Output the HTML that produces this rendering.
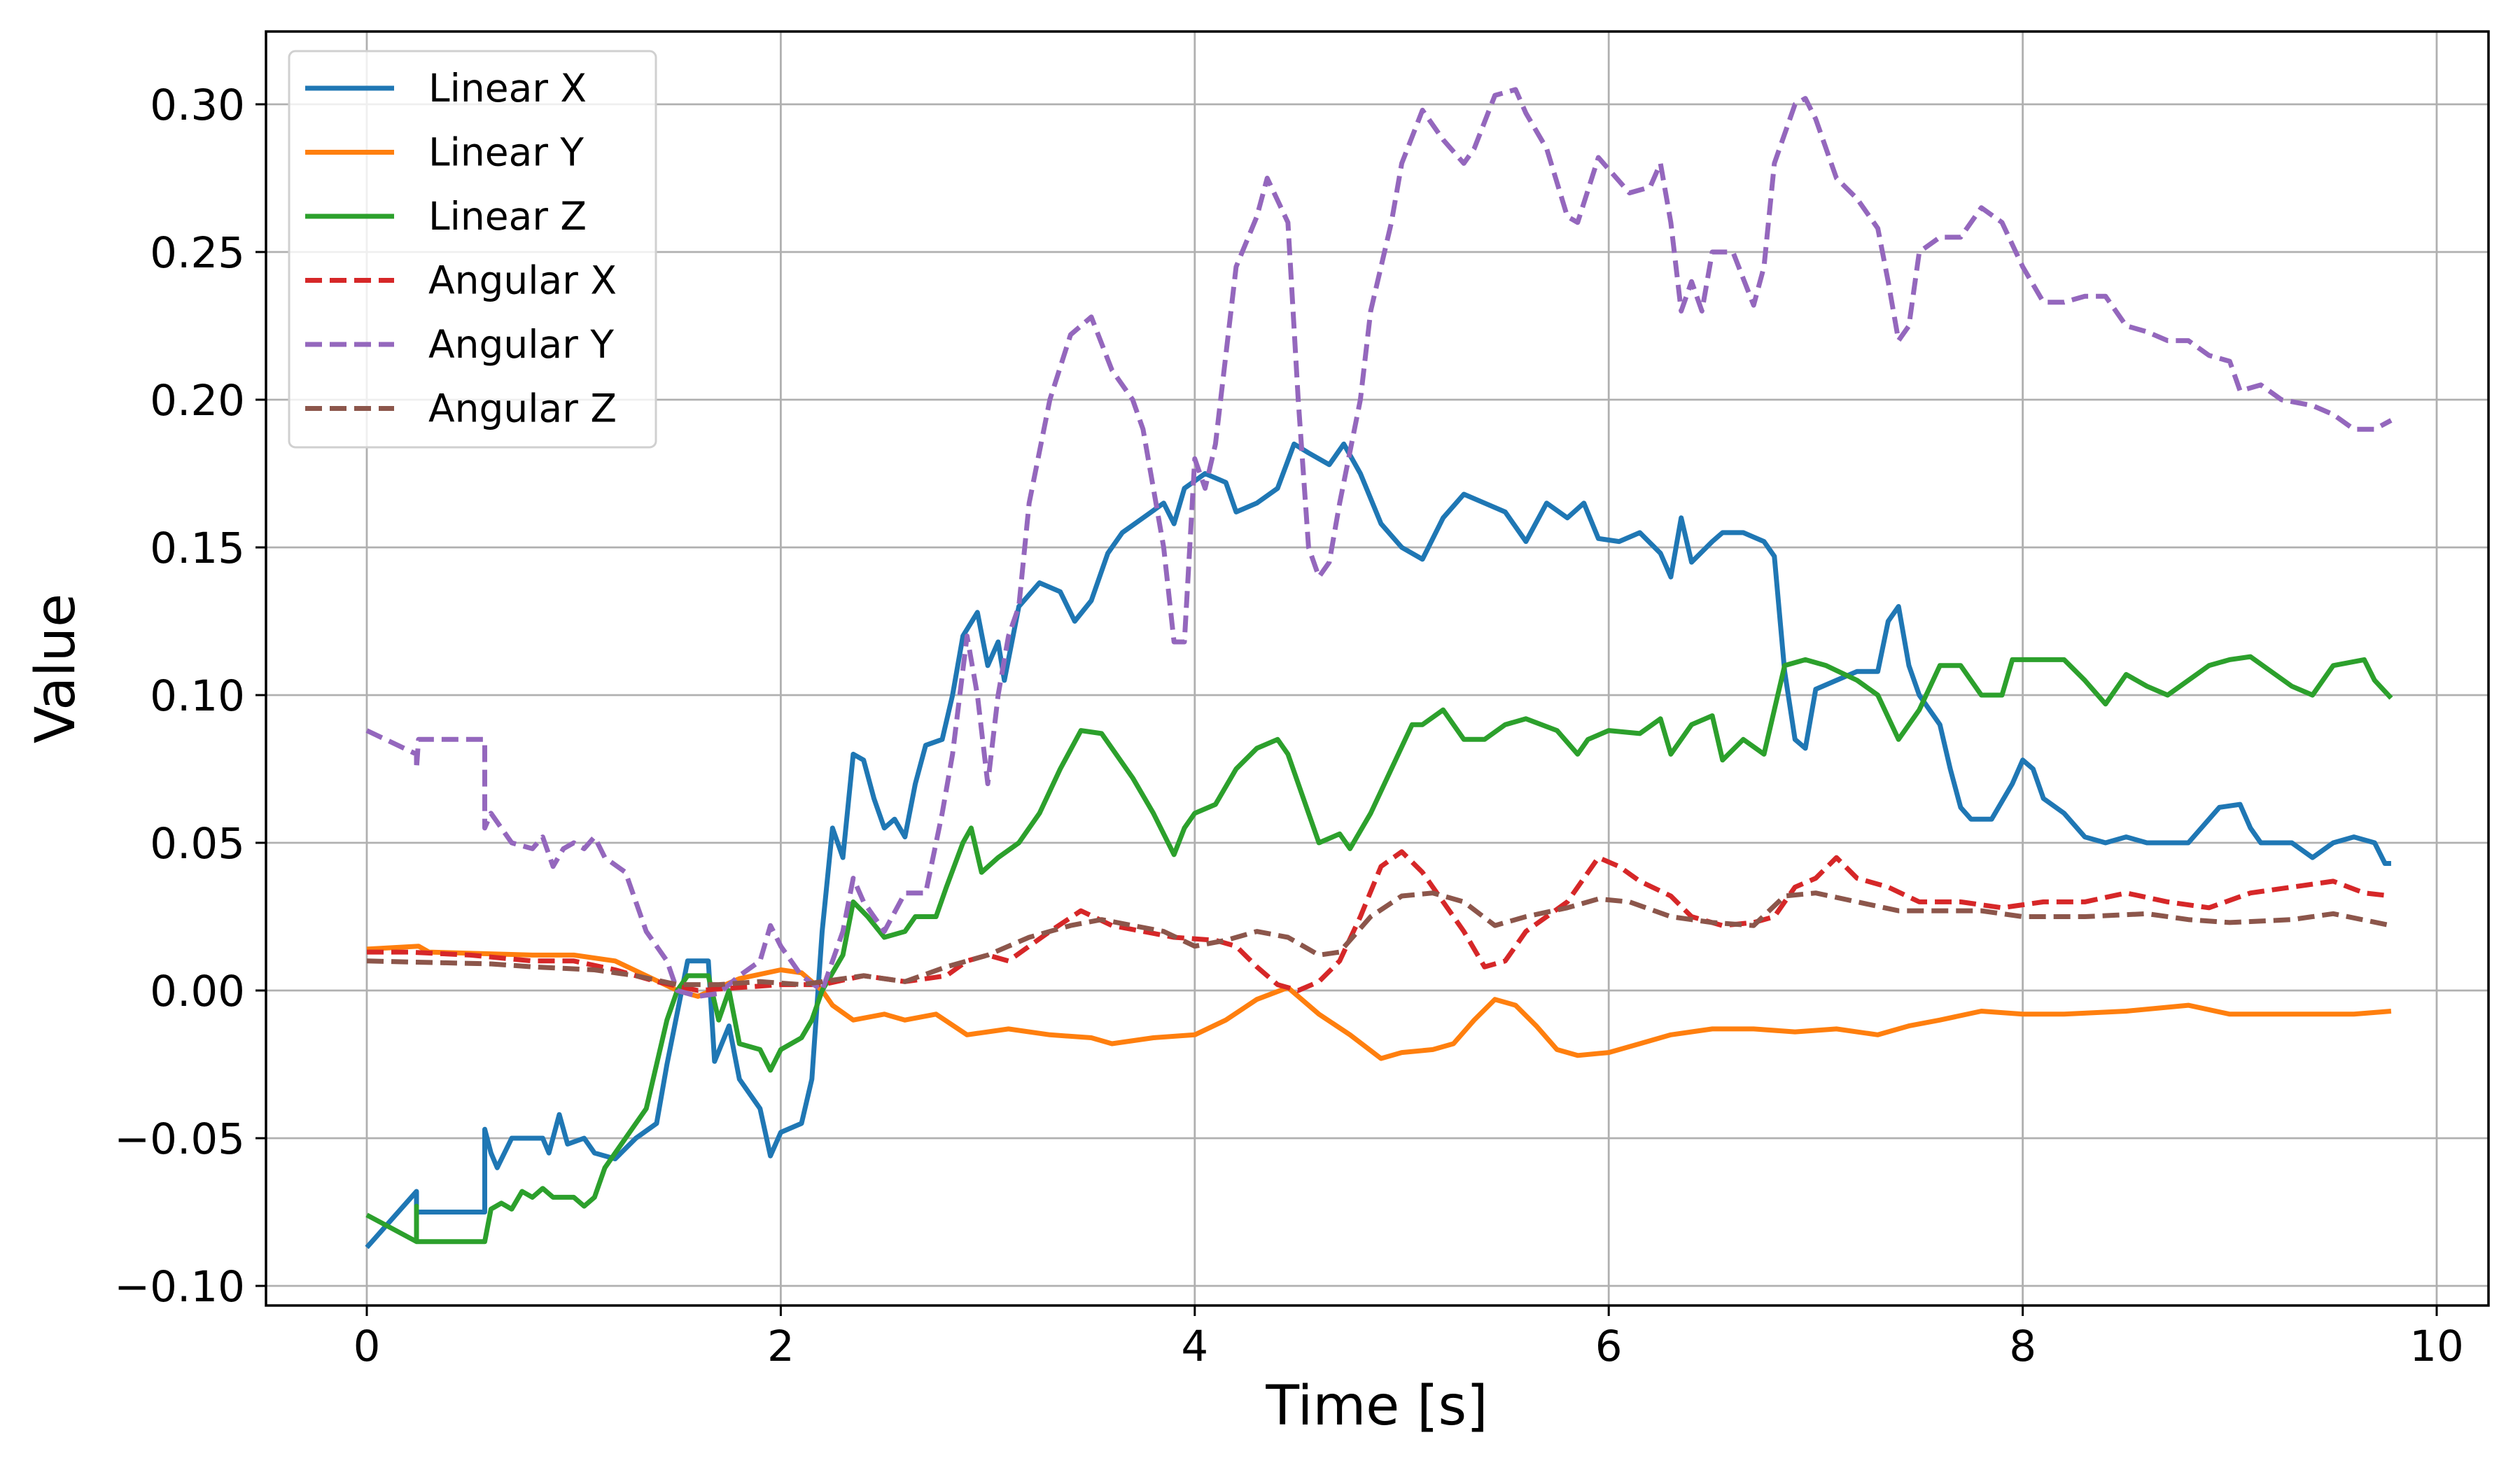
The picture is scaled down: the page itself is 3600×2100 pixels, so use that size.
<!DOCTYPE html>
<html><head><meta charset="utf-8"><style>
html,body{margin:0;padding:0;background:#fff;}
svg{display:block;font-family:"DejaVu Sans","Liberation Sans",sans-serif;}
</style></head><body>
<svg id="chart" width="3600" height="2100" viewBox="0 0 3600 2100">
<rect x="0" y="0" width="3600" height="2100" fill="#fff"/>
<g id="grid"></g>
<g id="series"></g>
<rect x="380" y="45" width="3175" height="1820" fill="none" stroke="#000" stroke-width="3.5"/>
<g id="ticks"></g>
<text x="1967" y="2035" font-size="78" text-anchor="middle">Time [s]</text>
<text x="0" y="0" font-size="78" text-anchor="middle" transform="translate(106,955) rotate(-90)">Value</text>
<g id="legend"></g>
</svg>
<script>
const xTicks=[0,2,4,6,8,10];
const xTickLabels=["0","2","4","6","8","10"];
const yTicks=[-0.10,-0.05,0.00,0.05,0.10,0.15,0.20,0.25,0.30];
const yTickLabels=["\u22120.10","\u22120.05","0.00","0.05","0.10","0.15","0.20","0.25","0.30"];
const seriesNames=["Linear X","Linear Y","Linear Z","Angular X","Angular Y","Angular Z"];
const linXt=[0,0.24,0.24,0.57,0.57,0.6,0.63,0.7,0.85,0.88,0.93,0.97,1.05,1.1,1.2,1.3,1.4,1.45,1.55,1.65,1.68,1.75,1.8,1.9,1.95,2.0,2.1,2.15,2.2,2.25,2.3,2.35,2.4,2.45,2.5,2.55,2.6,2.65,2.7,2.78,2.83,2.88,2.95,3.0,3.05,3.08,3.15,3.25,3.35,3.42,3.5,3.58,3.65,3.75,3.85,3.9,3.95,4.05,4.15,4.2,4.3,4.4,4.48,4.55,4.65,4.72,4.8,4.9,5.0,5.1,5.2,5.3,5.4,5.5,5.6,5.7,5.8,5.88,5.95,6.05,6.15,6.25,6.3,6.35,6.4,6.5,6.55,6.65,6.75,6.8,6.85,6.9,6.95,7.0,7.1,7.2,7.3,7.35,7.4,7.45,7.5,7.55,7.6,7.65,7.7,7.75,7.85,7.95,8.0,8.05,8.1,8.2,8.3,8.4,8.5,8.6,8.8,8.95,9.05,9.1,9.15,9.3,9.4,9.5,9.6,9.7,9.75,9.78];
const linXv=[-0.087,-0.068,-0.075,-0.075,-0.047,-0.055,-0.06,-0.05,-0.05,-0.055,-0.042,-0.052,-0.05,-0.055,-0.057,-0.05,-0.045,-0.025,0.01,0.01,-0.024,-0.012,-0.03,-0.04,-0.056,-0.048,-0.045,-0.03,0.02,0.055,0.045,0.08,0.078,0.065,0.055,0.058,0.052,0.07,0.083,0.085,0.1,0.12,0.128,0.11,0.118,0.105,0.13,0.138,0.135,0.125,0.132,0.148,0.155,0.16,0.165,0.158,0.17,0.175,0.172,0.162,0.165,0.17,0.185,0.182,0.178,0.185,0.175,0.158,0.15,0.146,0.16,0.168,0.165,0.162,0.152,0.165,0.16,0.165,0.153,0.152,0.155,0.148,0.14,0.16,0.145,0.152,0.155,0.155,0.152,0.147,0.108,0.085,0.082,0.102,0.105,0.108,0.108,0.125,0.13,0.11,0.1,0.095,0.09,0.075,0.062,0.058,0.058,0.07,0.078,0.075,0.065,0.06,0.052,0.05,0.052,0.05,0.05,0.062,0.063,0.055,0.05,0.05,0.045,0.05,0.052,0.05,0.043,0.043];
const linYt=[0,0.25,0.3,0.8,1.0,1.2,1.35,1.5,1.6,1.7,1.8,2.0,2.1,2.2,2.25,2.35,2.5,2.6,2.75,2.9,3.1,3.3,3.5,3.6,3.8,4.0,4.15,4.3,4.45,4.6,4.75,4.9,5.0,5.15,5.25,5.35,5.45,5.55,5.65,5.75,5.85,6.0,6.15,6.3,6.5,6.7,6.9,7.1,7.3,7.45,7.6,7.8,8.0,8.2,8.5,8.8,9.0,9.3,9.6,9.78];
const linYv=[0.014,0.015,0.013,0.012,0.012,0.01,0.005,0.0,-0.002,0.001,0.004,0.007,0.006,0.0,-0.005,-0.01,-0.008,-0.01,-0.008,-0.015,-0.013,-0.015,-0.016,-0.018,-0.016,-0.015,-0.01,-0.003,0.001,-0.008,-0.015,-0.023,-0.021,-0.02,-0.018,-0.01,-0.003,-0.005,-0.012,-0.02,-0.022,-0.021,-0.018,-0.015,-0.013,-0.013,-0.014,-0.013,-0.015,-0.012,-0.01,-0.007,-0.008,-0.008,-0.007,-0.005,-0.008,-0.008,-0.008,-0.007];
const linZt=[0,0.24,0.24,0.24,0.57,0.6,0.65,0.7,0.75,0.8,0.85,0.9,1.0,1.05,1.1,1.15,1.25,1.3,1.35,1.4,1.45,1.5,1.55,1.65,1.7,1.75,1.8,1.9,1.95,2.0,2.1,2.15,2.2,2.3,2.35,2.42,2.5,2.6,2.65,2.75,2.8,2.88,2.92,2.97,3.05,3.15,3.25,3.35,3.45,3.55,3.62,3.7,3.8,3.9,3.95,4.0,4.1,4.2,4.3,4.4,4.45,4.55,4.6,4.7,4.75,4.85,4.95,5.05,5.1,5.2,5.3,5.4,5.5,5.6,5.75,5.85,5.9,6.0,6.15,6.25,6.3,6.4,6.5,6.55,6.65,6.75,6.85,6.95,7.05,7.2,7.3,7.4,7.5,7.6,7.7,7.8,7.9,7.95,8.1,8.2,8.3,8.4,8.5,8.6,8.7,8.8,8.9,9.0,9.1,9.2,9.3,9.4,9.5,9.65,9.7,9.78];
const linZv=[-0.076,-0.085,-0.073,-0.085,-0.085,-0.074,-0.072,-0.074,-0.068,-0.07,-0.067,-0.07,-0.07,-0.073,-0.07,-0.06,-0.05,-0.045,-0.04,-0.025,-0.01,0.0,0.005,0.005,-0.01,0.0,-0.018,-0.02,-0.027,-0.02,-0.016,-0.01,0.0,0.012,0.03,0.025,0.018,0.02,0.025,0.025,0.035,0.05,0.055,0.04,0.045,0.05,0.06,0.075,0.088,0.087,0.08,0.072,0.06,0.046,0.055,0.06,0.063,0.075,0.082,0.085,0.08,0.06,0.05,0.053,0.048,0.06,0.075,0.09,0.09,0.095,0.085,0.085,0.09,0.092,0.088,0.08,0.085,0.088,0.087,0.092,0.08,0.09,0.093,0.078,0.085,0.08,0.11,0.112,0.11,0.105,0.1,0.085,0.095,0.11,0.11,0.1,0.1,0.112,0.112,0.112,0.105,0.097,0.107,0.103,0.1,0.105,0.11,0.112,0.113,0.108,0.103,0.1,0.11,0.112,0.105,0.099];
const angXt=[0,0.2,0.5,0.8,1.0,1.2,1.4,1.6,1.8,2.0,2.2,2.4,2.6,2.8,2.9,3.0,3.1,3.3,3.45,3.6,3.75,3.9,4.1,4.2,4.3,4.4,4.5,4.6,4.7,4.8,4.9,5.0,5.1,5.2,5.3,5.4,5.5,5.6,5.7,5.8,5.9,5.95,6.05,6.15,6.3,6.4,6.55,6.7,6.8,6.9,7.0,7.1,7.2,7.35,7.5,7.7,7.9,8.1,8.3,8.5,8.7,8.9,9.1,9.3,9.5,9.65,9.78];
const angXv=[0.013,0.013,0.012,0.01,0.01,0.007,0.003,0.0,0.001,0.002,0.002,0.005,0.003,0.005,0.01,0.012,0.01,0.02,0.027,0.022,0.02,0.018,0.017,0.015,0.008,0.002,0.0,0.003,0.01,0.025,0.042,0.047,0.04,0.03,0.02,0.008,0.01,0.02,0.025,0.03,0.04,0.045,0.042,0.037,0.032,0.025,0.022,0.023,0.025,0.035,0.038,0.045,0.038,0.035,0.03,0.03,0.028,0.03,0.03,0.033,0.03,0.028,0.033,0.035,0.037,0.033,0.032];
const angYt=[0,0.24,0.24,0.25,0.57,0.57,0.6,0.65,0.7,0.8,0.85,0.9,0.95,1.0,1.05,1.1,1.15,1.25,1.3,1.35,1.45,1.5,1.6,1.7,1.8,1.9,1.95,2.0,2.1,2.2,2.3,2.35,2.4,2.5,2.6,2.7,2.78,2.83,2.9,2.95,3.0,3.05,3.1,3.15,3.2,3.3,3.4,3.5,3.6,3.7,3.75,3.8,3.85,3.9,3.95,4.0,4.05,4.1,4.2,4.3,4.35,4.45,4.5,4.55,4.6,4.65,4.7,4.8,4.85,4.95,5.0,5.1,5.2,5.3,5.35,5.45,5.55,5.6,5.7,5.8,5.85,5.95,6.0,6.1,6.2,6.25,6.3,6.35,6.4,6.45,6.5,6.6,6.7,6.75,6.8,6.9,6.95,7.0,7.1,7.2,7.3,7.35,7.4,7.45,7.5,7.6,7.7,7.8,7.9,8.0,8.1,8.2,8.3,8.4,8.5,8.6,8.7,8.8,8.9,9.0,9.05,9.15,9.25,9.4,9.5,9.6,9.7,9.78];
const angYv=[0.088,0.08,0.075,0.085,0.085,0.055,0.06,0.055,0.05,0.048,0.052,0.042,0.048,0.05,0.048,0.052,0.045,0.04,0.03,0.02,0.01,0.0,-0.002,-0.001,0.005,0.01,0.022,0.015,0.005,0.0,0.02,0.038,0.03,0.02,0.033,0.033,0.06,0.08,0.12,0.1,0.07,0.1,0.12,0.13,0.165,0.2,0.222,0.228,0.21,0.2,0.19,0.17,0.15,0.118,0.118,0.18,0.17,0.185,0.245,0.262,0.275,0.26,0.2,0.15,0.14,0.145,0.165,0.2,0.23,0.26,0.28,0.298,0.288,0.28,0.285,0.303,0.305,0.297,0.285,0.262,0.26,0.282,0.278,0.27,0.272,0.28,0.26,0.23,0.24,0.23,0.25,0.25,0.232,0.245,0.28,0.3,0.302,0.295,0.275,0.268,0.258,0.24,0.22,0.225,0.25,0.255,0.255,0.265,0.26,0.245,0.233,0.233,0.235,0.235,0.225,0.223,0.22,0.22,0.215,0.213,0.203,0.205,0.2,0.198,0.195,0.19,0.19,0.193];
const angZt=[0,0.6,0.8,1.1,1.3,1.5,1.7,1.9,2.1,2.4,2.6,2.8,3.0,3.2,3.4,3.55,3.7,3.85,4.0,4.15,4.3,4.45,4.6,4.7,4.85,5.0,5.15,5.3,5.45,5.6,5.8,5.95,6.1,6.3,6.5,6.7,6.85,7.0,7.2,7.4,7.6,7.8,8.0,8.3,8.6,8.8,9.0,9.3,9.5,9.78];
const angZv=[0.01,0.009,0.008,0.007,0.005,0.002,0.002,0.003,0.002,0.005,0.003,0.008,0.012,0.018,0.022,0.024,0.022,0.02,0.015,0.017,0.02,0.018,0.012,0.013,0.025,0.032,0.033,0.03,0.022,0.025,0.028,0.031,0.03,0.025,0.023,0.022,0.032,0.033,0.03,0.027,0.027,0.027,0.025,0.025,0.026,0.024,0.023,0.024,0.026,0.022];

const NS="http://www.w3.org/2000/svg";
const X=t=>524+t*295.7;
const Y=v=>1837-(v+0.1)*4220;
function mk(tag,attrs,parent){const e=document.createElementNS(NS,tag);for(const k in attrs)e.setAttribute(k,attrs[k]);parent.appendChild(e);return e;}
const grid=document.getElementById('grid'),ticks=document.getElementById('ticks');
xTicks.forEach((t,i)=>{
  const g=mk('line',{x1:X(t),x2:X(t),y1:45,y2:1865,stroke:'#b0b0b0','stroke-width':2.8},grid);
  
  
  const tk=mk('line',{x1:X(t),x2:X(t),y1:1865,y2:1880,stroke:'#000','stroke-width':3},ticks);
  
  
  const tx=mk('text',{x:X(t),y:1944,'font-size':61,'text-anchor':'middle'},ticks);
  tx.textContent=xTickLabels[i];
  
  
});
yTicks.forEach((v,i)=>{
  const g=mk('line',{x1:380,x2:3555,y1:Y(v),y2:Y(v),stroke:'#b0b0b0','stroke-width':2.8},grid);
  
  
  const tk=mk('line',{x1:365,x2:380,y1:Y(v),y2:Y(v),stroke:'#000','stroke-width':3},ticks);
  
  
  const tx=mk('text',{x:350,y:Y(v)+22,'font-size':61,'text-anchor':'end'},ticks);
  tx.textContent=yTickLabels[i];
  
  
});
const colors=['#1f77b4','#ff7f0e','#2ca02c','#d62728','#9467bd','#8c564b'];
const dashes=[null,null,null,'24 11','24 11','24 11'];
const ts=[linXt,linYt,linZt,angXt,angYt,angZt];
const vs=[linXv,linYv,linZv,angXv,angYv,angZv];
const sg=document.getElementById('series');
const names=['linear-x-line','linear-y-line','linear-z-line','angular-x-line','angular-y-line','angular-z-line'];
ts.forEach((tarr,s)=>{
  const pts=tarr.map((t,i)=>X(t).toFixed(1)+','+Y(vs[s][i]).toFixed(1)).join(' ');
  const a={points:pts,fill:'none',stroke:colors[s],'stroke-width':7,'stroke-linejoin':'round'};
  if(dashes[s])a['stroke-dasharray']=dashes[s];
  const p=mk('polyline',a,sg);
  
  
});
const lg=document.getElementById('legend');
const box=mk('rect',{x:413,y:73,width:524,height:566,rx:9,fill:'#fff','fill-opacity':0.8,stroke:'#d0d0d0','stroke-width':3},lg);


seriesNames.forEach((n,i)=>{
  const y=126+i*91.5;
  const a={x1:436,x2:563,y1:y,y2:y,stroke:colors[i],'stroke-width':7};
  if(dashes[i])a['stroke-dasharray']=dashes[i];
  const l=mk('line',a,lg);
  
  
  const t=mk('text',{x:612,y:y+19,'font-size':55},lg);
  t.textContent=n;
  
  
});
</script>
</body></html>
